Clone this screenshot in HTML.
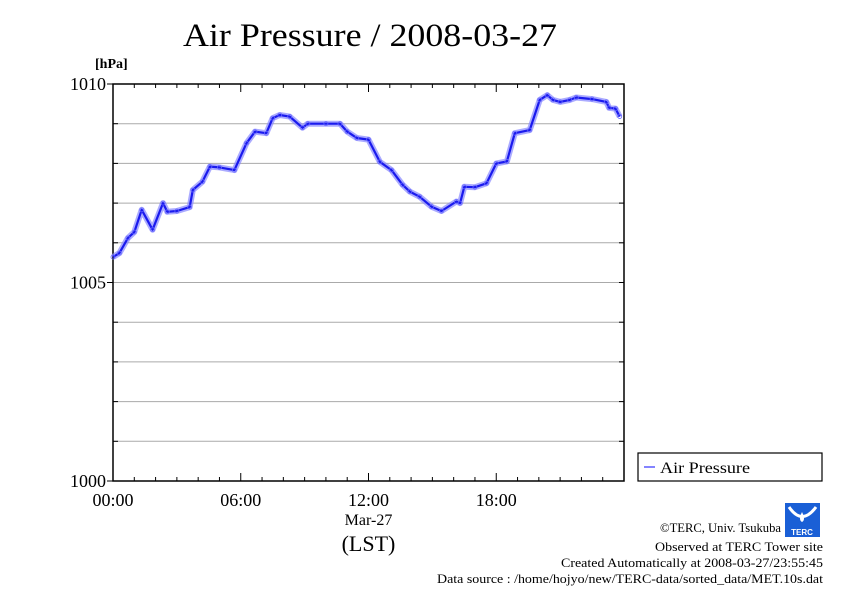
<!DOCTYPE html>
<html><head><meta charset="utf-8"><style>
body{margin:0;background:#fff;}
svg{display:block;font-family:"Liberation Serif",serif;}
</style></head><body>
<svg id="chart" width="842" height="595" viewBox="0 0 842 595">
<rect width="842" height="595" fill="#fff"/>
<text x="183" y="46" font-size="33" textLength="374" lengthAdjust="spacingAndGlyphs">Air Pressure / 2008-03-27</text>
<text x="95" y="68" font-size="14" font-weight="bold">[hPa]</text>
<g id="grid"></g>
<g id="axes"></g>
<g id="series"></g>
<g>
<rect x="638" y="453" width="184" height="28" fill="#fff" stroke="#000" stroke-width="1.2"/>
<line x1="644" y1="467" x2="655" y2="467" stroke="#3333ff" stroke-width="1.2"/>
<text x="660" y="473" font-size="16" textLength="90" lengthAdjust="spacingAndGlyphs">Air Pressure</text>
</g>
<g>
<rect x="785" y="503" width="35" height="34" fill="#1a5fd6"/>
<path d="M789 507 Q802 526 816 507" fill="none" stroke="#fff" stroke-width="3"/>
<path d="M802 512 Q806 520 802 522 Q798 520 802 512Z" fill="#fff"/>
<text x="802" y="535" font-size="8" fill="#fff" text-anchor="middle" font-family="Liberation Sans,sans-serif" font-weight="bold">TERC</text>
</g>
<g font-size="13">
<text x="660" y="532" textLength="121" lengthAdjust="spacingAndGlyphs">©TERC, Univ. Tsukuba</text>
<text x="655" y="551" textLength="168" lengthAdjust="spacingAndGlyphs">Observed at TERC Tower site</text>
<text x="561" y="567" textLength="262" lengthAdjust="spacingAndGlyphs">Created Automatically at 2008-03-27/23:55:45</text>
<text x="437" y="583" textLength="386" lengthAdjust="spacingAndGlyphs">Data source : /home/hojyo/new/TERC-data/sorted_data/MET.10s.dat</text>
</g>
</svg>
<script>
const hours=[0,0.3,0.7,1.0,1.35,1.86,2.35,2.55,3.0,3.6,3.75,4.2,4.55,5.0,5.7,6.27,6.67,7.2,7.5,7.83,8.3,8.9,9.15,10.0,10.66,11.0,11.45,12.0,12.53,13.08,13.6,13.94,14.4,14.96,15.43,16.13,16.3,16.5,17.0,17.54,18.0,18.5,18.87,19.57,20.04,20.4,20.66,21.0,21.45,21.76,22.5,23.17,23.3,23.6,23.8];
const pressure=[1005.64,1005.74,1006.12,1006.27,1006.83,1006.33,1007.0,1006.78,1006.8,1006.9,1007.33,1007.54,1007.92,1007.9,1007.83,1008.51,1008.8,1008.76,1009.14,1009.22,1009.18,1008.9,1009.0,1009.0,1009.0,1008.8,1008.64,1008.6,1008.04,1007.83,1007.46,1007.29,1007.16,1006.91,1006.8,1007.04,1007.0,1007.41,1007.4,1007.5,1008.0,1008.05,1008.76,1008.84,1009.6,1009.72,1009.6,1009.55,1009.6,1009.66,1009.62,1009.55,1009.4,1009.38,1009.18];
const yTicks=[1000,1005,1010];
const xTickLabels=["00:00","06:00","12:00","18:00"];
const X0=113,X1=624,Y0=481,Y1=84;
const x=h=>X0+(X1-X0)*h/24;
const y=v=>Y0-(Y0-Y1)*(v-1000)/10;
const NS="http://www.w3.org/2000/svg";
function mk(tag,attrs,parent){const e=document.createElementNS(NS,tag);for(const k in attrs)e.setAttribute(k,attrs[k]);parent.appendChild(e);return e;}
const grid=document.getElementById('grid'),axes=document.getElementById('axes'),ser=document.getElementById('series');
for(let v=1001;v<1010;v++){const l=mk('line',{x1:X0,x2:X1,y1:y(v),y2:y(v),stroke:'#aaa','stroke-width':1},grid);

}
const fr=mk('rect',{x:X0,y:Y1,width:X1-X0,height:Y0-Y1,fill:'none',stroke:'#000','stroke-width':1.5},axes);


for(let v=1000;v<=1010;v++){const big=v%5===0;
mk('line',{x1:X0-(big?6:0),x2:X0+(big?0:5),y1:y(v),y2:y(v),stroke:'#000'},axes);
mk('line',{x1:X1-5,x2:X1,y1:y(v),y2:y(v),stroke:'#000'},axes);}
yTicks.forEach(v=>{const t=mk('text',{x:X0-7,y:y(v)+6,'font-size':18,'text-anchor':'end'},axes);t.textContent=v;

});
for(let h=0;h<=24;h++){const len=h%6===0?8:4;
mk('line',{x1:x(h),x2:x(h),y1:Y0,y2:Y0-len,stroke:'#000'},axes);
mk('line',{x1:x(h),x2:x(h),y1:Y1,y2:Y1+len,stroke:'#000'},axes);}
xTickLabels.forEach((s,i)=>{const t=mk('text',{x:x(i*6),y:506,'font-size':18,'text-anchor':'middle'},axes);t.textContent=s;

});
const d1=mk('text',{x:x(12),y:525,'font-size':16,'text-anchor':'middle'},axes);d1.textContent='Mar-27';


const d2=mk('text',{x:x(12),y:551,'font-size':22,'text-anchor':'middle'},axes);d2.textContent='(LST)';


const pts=hours.map((h,i)=>x(h).toFixed(1)+','+y(pressure[i]).toFixed(1)).join(' ');
const pl=mk('polyline',{points:pts,fill:'none',stroke:'#8888ff','stroke-width':6,'stroke-linejoin':'round',opacity:0.7},ser);


const ln=mk('polyline',{points:pts,fill:'none',stroke:'#1a1aee','stroke-width':2.2,'stroke-linejoin':'round'},ser);


hours.forEach((h,i)=>{const c=mk('circle',{cx:x(h),cy:y(pressure[i]),r:2,fill:'none',stroke:'#6666ff','stroke-width':0.8},ser);

});
</script>
</body></html>
